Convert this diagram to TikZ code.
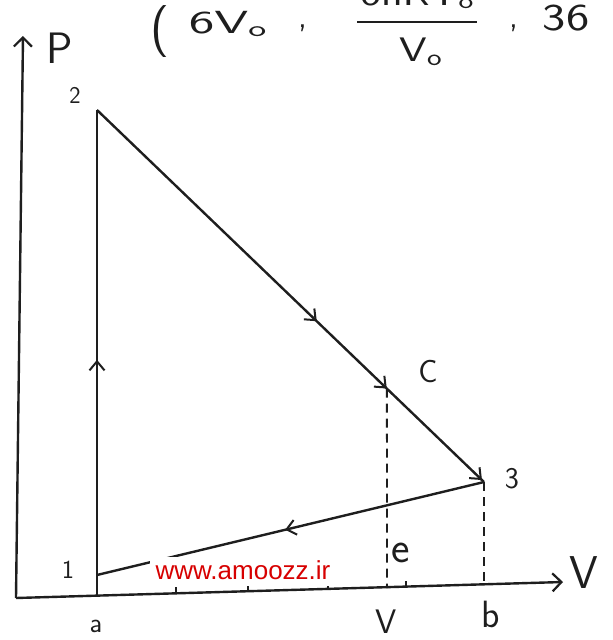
\documentclass[tikz,border=0pt]{standalone}
\usepackage{fontspec}
\newfontfamily\wmfont{Liberation Sans}
\usetikzlibrary{arrows.meta,decorations.markings,calc}
\newcommand{\fsz}[1]{\fontsize{#1}{#1}\selectfont}
\definecolor{ink}{RGB}{30,30,30}
\definecolor{wmred}{RGB}{215,0,0}
\begin{document}
\begin{tikzpicture}[x=1pt,y=-1pt,
  axisline/.style={line width=2.4pt, ink},
  pathline/.style={line width=2.4pt, ink},
  dashline/.style={line width=1.8pt, ink, dash pattern=on 9pt off 6pt},
  midarrow/.style={postaction={decorate},decoration={markings,
     mark=at position #1 with {\arrow{Straight Barb[length=9pt,width=15pt,line width=2pt]}}}},
  lab/.style={inner sep=0pt, text=ink},
]
\clip (0,0) rectangle (613,640);
\fill[white] (0,0) rectangle (613,640);

% key points
\coordinate (O) at (16,598);
\coordinate (Ptop) at (23,36);
\coordinate (Vend) at (563,582);
\coordinate (afoot) at (97,596);
\coordinate (p1) at (97,575);
\coordinate (p2) at (97,110);
\coordinate (p3) at (484,482);
\coordinate (pc) at ($(p2)!0.749!(p3)$);
\coordinate (cfoot) at (387,588);
\coordinate (bfoot) at (484,585);

% axes
\draw[axisline,-{Straight Barb[length=9pt,width=18pt,line width=2.2pt]}] (O) -- (Ptop);
\draw[axisline,-{Straight Barb[length=9pt,width=18pt,line width=2.2pt]}] (O) -- (Vend);

% faint ticks on V axis
\foreach \tx/\ty in {176/593, 248/591, 328/589, 406/586.6}
  \draw[line width=1.4pt, ink] (\tx,\ty) -- (\tx,\ty-6);

% cycle
\draw[pathline,midarrow=0.486] (afoot) -- (p2);
\draw[pathline,
  postaction={decorate},decoration={markings,
    mark=at position 0.568 with {\arrow{Straight Barb[length=9pt,width=15pt,line width=2pt]}},
    mark=at position 0.749 with {\arrow{Straight Barb[length=9pt,width=15pt,line width=2pt]}},
    mark=at position 0.995 with {\arrow{Straight Barb[length=9pt,width=15pt,line width=2pt]}}}]
  (p2) -- (p3);
\draw[pathline,midarrow=0.514] (p3) -- (p1);

% dashed drops
\draw[dashline] (pc) -- (cfoot);
\draw[dashline] (p3) -- (bfoot);

% labels
\node[lab,font=\sffamily\fsz{44}] (Plab) at (60,48) {P};
\node[lab,font=\sffamily\fsz{46}] (Vlab) at (584,573) {V};
\node[lab,font=\sffamily\fsz{24}] (l2) at (75,95) {2};
\node[lab,font=\sffamily\fsz{26}] (l1) at (68,570) {1};
\node[lab,font=\sffamily\fsz{30}] (l3) at (512,479) {3};
\node[lab,font=\sffamily\fsz{32}] (lc) at (428,372) {C};
\node[lab,font=\sffamily\fsz{38}] (lb) at (491,614) {b};
\node[lab,font=\sffamily\fsz{34}] (lv) at (386,622) {V};
\node[lab,font=\sffamily\fsz{28}] (la) at (96,626) {a};

% watermark
\fill[white] (150,557) rectangle (383,586);
\node[lab,font=\wmfont\fsz{26},text=wmred,anchor=base] (wm) at (243,579) {www.amoozz.ir};
\node[lab,font=\sffamily\fsz{44}] (le) at (401,553) {e};

% top expression (cut off at the top)
\node[lab,font=\sffamily\fsz{52}] (lpar) at (160,32) {(};
\node[lab,font=\sffamily\fsz{32}] (t1) at (228,24) {\scalebox{1.7}[1]{6V\textsubscript{o}}};
\node[lab,font=\sffamily\fsz{34}] (c1) at (303,28) {,};
\node[lab,font=\sffamily\fsz{32}] (num) at (417,-4) {\scalebox{1.4}[1]{6nRT\textsubscript{o}}};
\draw[line width=2.2pt, ink] (357,22) -- (477,22);
\node[lab,font=\sffamily\fsz{34}] (den) at (421,52) {\scalebox{1.3}[1]{V\textsubscript{o}}};
\node[lab,font=\sffamily\fsz{34}] (c2) at (514,28) {,};
\node[lab,font=\sffamily\fsz{38}] (t36) at (566,18) {\scalebox{1.3}[1]{36}};
\end{tikzpicture}
\end{document}
